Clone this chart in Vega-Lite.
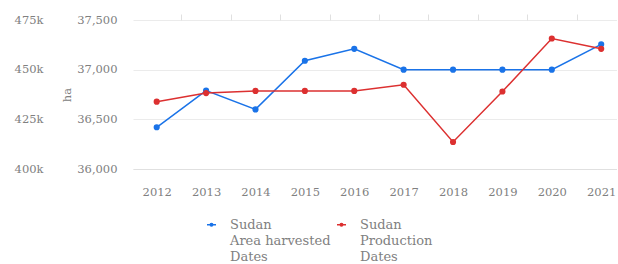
{
  "$schema": "https://vega.github.io/schema/vega-lite/v6.json",
  "width": 484,
  "height": 149,
  "padding": {"left": 14, "top": 13, "right": 0, "bottom": 0},
  "background": "white",
  "config": {
    "view": {"stroke": null},
    "font": "DejaVu Serif",
    "axis": {"labelFont": "DejaVu Serif", "labelFontSize": 11.5, "labelColor": "#808080", "titleFont": "DejaVu Serif", "titleColor": "#808080", "titleFontWeight": "normal", "titleFontSize": 11.5}
  },
  "datasets": {
    "area": [
      {"year": 2012, "value": 36420, "series": "Sudan\nArea harvested\nDates"},
      {"year": 2013, "value": 36790, "series": "Sudan\nArea harvested\nDates"},
      {"year": 2014, "value": 36600, "series": "Sudan\nArea harvested\nDates"},
      {"year": 2015, "value": 37090, "series": "Sudan\nArea harvested\nDates"},
      {"year": 2016, "value": 37210, "series": "Sudan\nArea harvested\nDates"},
      {"year": 2017, "value": 37000, "series": "Sudan\nArea harvested\nDates"},
      {"year": 2018, "value": 37000, "series": "Sudan\nArea harvested\nDates"},
      {"year": 2019, "value": 37000, "series": "Sudan\nArea harvested\nDates"},
      {"year": 2020, "value": 37000, "series": "Sudan\nArea harvested\nDates"},
      {"year": 2021, "value": 37255, "series": "Sudan\nArea harvested\nDates"}
    ],
    "production": [
      {"year": 2012, "value": 433900, "series": "Sudan\nProduction\nDates"},
      {"year": 2013, "value": 438200, "series": "Sudan\nProduction\nDates"},
      {"year": 2014, "value": 439300, "series": "Sudan\nProduction\nDates"},
      {"year": 2015, "value": 439300, "series": "Sudan\nProduction\nDates"},
      {"year": 2016, "value": 439300, "series": "Sudan\nProduction\nDates"},
      {"year": 2017, "value": 442400, "series": "Sudan\nProduction\nDates"},
      {"year": 2018, "value": 413600, "series": "Sudan\nProduction\nDates"},
      {"year": 2019, "value": 439000, "series": "Sudan\nProduction\nDates"},
      {"year": 2020, "value": 465700, "series": "Sudan\nProduction\nDates"},
      {"year": 2021, "value": 460500, "series": "Sudan\nProduction\nDates"}
    ]
  },
  "layer": [
    {
      "data": {"name": "area"},
      "mark": {"type": "line", "strokeWidth": 1.5, "point": {"filled": true, "size": 38}},
      "encoding": {
        "x": {
          "field": "year", "type": "quantitative",
          "scale": {"domain": [2011.52, 2021.32], "nice": false, "zero": false},
          "axis": {"title": null, "values": [2012, 2013, 2014, 2015, 2016, 2017, 2018, 2019, 2020, 2021], "format": "d", "ticks": false, "grid": false, "domain": true, "domainColor": "#e0e0e0", "labelPadding": 17, "labelFlush": false}
        },
        "y": {
          "field": "value", "type": "quantitative",
          "scale": {"domain": [36000, 37500], "nice": false, "zero": false},
          "axis": {"title": "ha", "values": [36000, 36500, 37000, 37500], "format": ",.0f", "grid": true, "gridColor": "#ebebeb", "domain": false, "ticks": false, "labelPadding": 16, "titlePadding": 4, "orient": "left"}
        },
        "color": {
          "field": "series", "type": "nominal",
          "scale": {"domain": ["Sudan\nArea harvested\nDates", "Sudan\nProduction\nDates"], "range": ["#1a73e8", "#dc3030"]},
          "legend": {
            "title": null, "orient": "none", "direction": "horizontal", "legendX": 72, "legendY": 198,
            "symbolType": "M-1.5,0H-0.55M0.55,0H1.5M-0.42,0A0.42,0.42 0 1,1 0.42,0A0.42,0.42 0 1,1 -0.42,0Z",
            "symbolSize": 36, "symbolStrokeWidth": 1.5,
            "labelExpr": "split(datum.label, '\\n')",
            "labelBaseline": "top",
            "labelFont": "DejaVu Serif", "labelFontSize": 13, "labelColor": "#808080", "labelOffset": 12, "labelLimit": 200,
            "columnPadding": 3,
            "encode": {
              "symbols": {"update": {"fill": {"scale": "color", "field": "value"}, "stroke": {"scale": "color", "field": "value"}}},
              "labels": {"update": {"lineHeight": {"value": 16}, "dy": {"value": -6}}}
            }
          }
        }
      }
    },
    {
      "data": {"name": "production"},
      "mark": {"type": "line", "strokeWidth": 1.5, "point": {"filled": true, "size": 38}},
      "encoding": {
        "x": {
          "field": "year", "type": "quantitative",
          "axis": {"title": null, "values": [2011.5, 2012.5, 2013.5, 2014.5, 2015.5, 2016.5, 2017.5, 2018.5, 2019.5, 2020.5], "labels": false, "ticks": true, "tickSize": 6, "tickColor": "#e0e0e0", "grid": false, "domain": false}
        },
        "y": {
          "field": "value", "type": "quantitative",
          "scale": {"domain": [400000, 475000], "nice": false, "zero": false},
          "axis": {"title": null, "values": [400000, 425000, 450000, 475000], "format": "~s", "grid": false, "domain": false, "ticks": false, "labelPadding": 16, "offset": 74, "orient": "left"}
        },
        "color": {"field": "series", "type": "nominal"}
      }
    }
  ],
  "resolve": {"scale": {"y": "independent"}, "axis": {"x": "independent", "y": "independent"}}
}
